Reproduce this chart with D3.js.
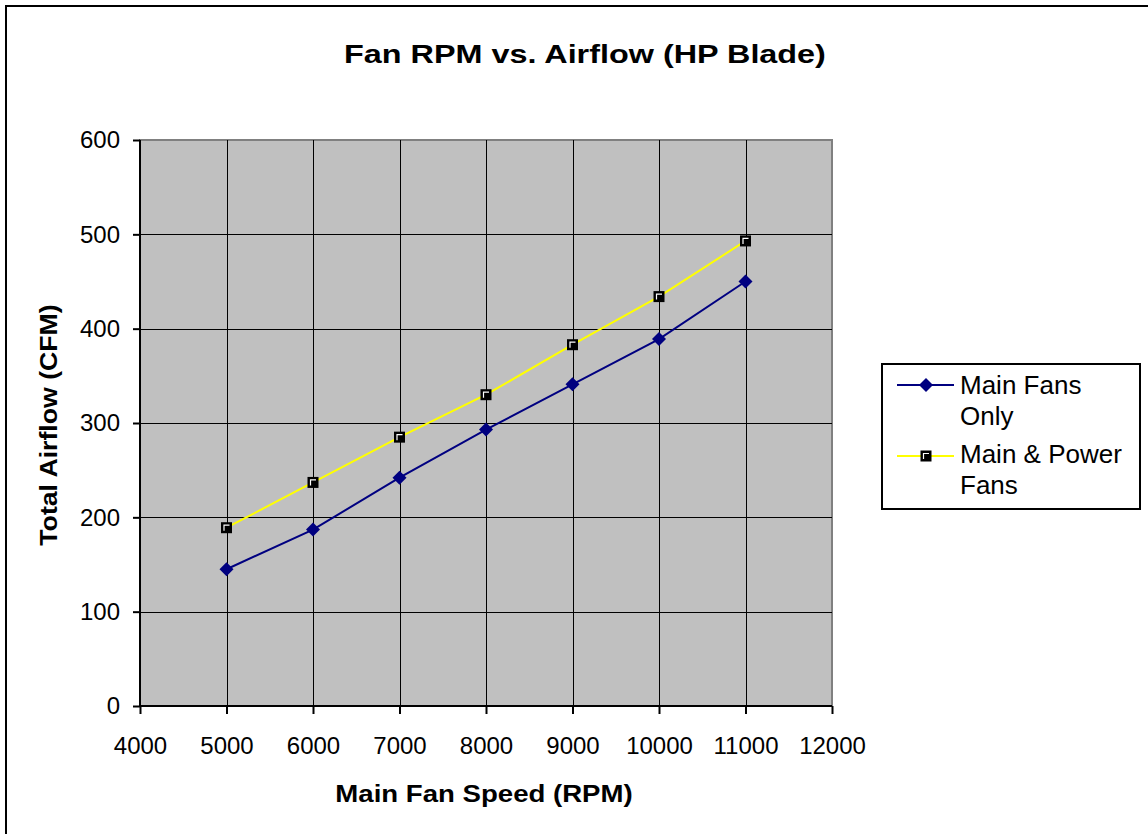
<!DOCTYPE html>
<html>
<head>
<meta charset="utf-8">
<script src="https://cdn.jsdelivr.net/npm/d3@7"></script>
<style>
  body { margin: 0; background: #fff; }
  text { font-family: "Liberation Sans", Arial, sans-serif; }
</style>
</head>
<body>
<svg></svg>
<script>
width = 1148;
height = 834;

// data
let rpm = [5000, 6000, 7000, 8000, 9000, 10000, 11000];
let mainOnly = [145, 187, 242, 293, 341, 389, 450];
let mainPower = [189, 237, 285, 330, 383, 434, 493];
let xTicks = [4000, 5000, 6000, 7000, 8000, 9000, 10000, 11000, 12000];
let yTicks = [0, 100, 200, 300, 400, 500, 600];

let svg = d3.select("svg").attr("width", width).attr("height", height);

// outer chart border (runs off the right/bottom edge)
svg.append("rect")
    .attr("x", 6).attr("y", 6)
    .attr("width", 1160).attr("height", 850)
    .style("fill", "white")
    .style("stroke", "black")
    .style("stroke-width", 2);

let pLeft = 140, pTop = 140, pRight = 832, pBottom = 706;

let x = d3.scaleLinear().domain([4000, 12000]).range([pLeft, pRight]);
let y = d3.scaleLinear().domain([0, 600]).range([pBottom, pTop]);

// plot background
svg.append("rect")
    .attr("x", pLeft).attr("y", pTop)
    .attr("width", pRight - pLeft).attr("height", pBottom - pTop)
    .style("fill", "#c0c0c0")
    .style("stroke", "#808080")
    .style("stroke-width", 2);

// gridlines
svg.append("g").selectAll("line")
    .data(xTicks.slice(1, -1))
    .join("line")
    .attr("x1", d => Math.round(x(d)) + 0.5).attr("x2", d => Math.round(x(d)) + 0.5)
    .attr("y1", pTop).attr("y2", pBottom)
    .style("stroke", "black").style("stroke-width", 1);

svg.append("g").selectAll("line")
    .data(yTicks.slice(1, -1))
    .join("line")
    .attr("x1", pLeft).attr("x2", pRight)
    .attr("y1", d => Math.round(y(d)) + 0.5).attr("y2", d => Math.round(y(d)) + 0.5)
    .style("stroke", "black").style("stroke-width", 1);

// axes
let xAxis = svg.append("g")
    .attr("transform", "translate(0," + pBottom + ")")
    .call(d3.axisBottom(x).tickValues(xTicks).tickSize(8).tickPadding(23).tickFormat(d3.format("d")));
let yAxis = svg.append("g")
    .attr("transform", "translate(" + pLeft + ",0)")
    .call(d3.axisLeft(y).tickValues(yTicks).tickSize(7).tickPadding(13));

[xAxis, yAxis].forEach(a => {
    a.select(".domain").style("stroke", "black").style("stroke-width", 2);
    a.selectAll(".tick line").style("stroke", "black").style("stroke-width", 2);
    a.selectAll(".tick text")
        .style("font-family", "'Liberation Sans', Arial, sans-serif")
        .style("font-size", "24px")
        .style("fill", "black");
});
xAxis.select(".domain").attr("d", "M" + pLeft + ",0H" + pRight);
yAxis.select(".domain").attr("d", "M0," + pBottom + "V" + pTop);

// lines
let line = d3.line().x(d => x(d[0])).y(d => y(d[1]));

svg.append("path")
    .attr("d", line(d3.zip(rpm, mainPower)))
    .style("fill", "none").style("stroke", "#ffff00").style("stroke-width", 2);

svg.append("path")
    .attr("d", line(d3.zip(rpm, mainOnly)))
    .style("fill", "none").style("stroke", "#000080").style("stroke-width", 2);

function diamond(g, cx, cy) {
    g.append("path")
        .attr("d", "M" + cx + "," + (cy - 7) + "L" + (cx + 7) + "," + cy +
            "L" + cx + "," + (cy + 7) + "L" + (cx - 7) + "," + cy + "Z")
        .style("fill", "#000080");
}

function square(g, cx, cy) {
    g.append("rect")
        .attr("x", cx - 5.5).attr("y", cy - 5.5)
        .attr("width", 11).attr("height", 11)
        .style("fill", "black");
    g.append("path")
        .attr("d", "M" + (cx - 2.5) + "," + (cy + 3) + "V" + (cy - 2.5) + "H" + (cx + 3))
        .style("fill", "none").style("stroke", "white").style("stroke-width", 1.2);
}

let marks = svg.append("g");
rpm.forEach((r, i) => square(marks, x(r), y(mainPower[i])));
rpm.forEach((r, i) => diamond(marks, x(r), y(mainOnly[i])));

// title and axis titles (bold text in the original is set wide)
svg.append("text")
    .attr("transform", "translate(585,63) scale(1.245,1)")
    .attr("text-anchor", "middle")
    .style("font-size", "26px").style("font-weight", "bold")
    .text("Fan RPM vs. Airflow (HP Blade)");

svg.append("text")
    .attr("transform", "translate(484,802) scale(1.2,1)")
    .attr("text-anchor", "middle")
    .style("font-size", "23px").style("font-weight", "bold")
    .text("Main Fan Speed (RPM)");

svg.append("text")
    .attr("transform", "translate(57,425) rotate(-90) scale(1.16,1)")
    .attr("text-anchor", "middle")
    .style("font-size", "23px").style("font-weight", "bold")
    .text("Total Airflow (CFM)");

// legend
let legend = svg.append("g");
legend.append("rect")
    .attr("x", 882).attr("y", 364)
    .attr("width", 258).attr("height", 145)
    .style("fill", "white").style("stroke", "black").style("stroke-width", 2);

legend.append("line")
    .attr("x1", 897).attr("x2", 954).attr("y1", 385).attr("y2", 385)
    .style("stroke", "#000080").style("stroke-width", 2);
diamond(legend, 926, 385);

legend.append("line")
    .attr("x1", 897).attr("x2", 954).attr("y1", 456).attr("y2", 456)
    .style("stroke", "#ffff00").style("stroke-width", 2);
square(legend, 926, 456);

let legendText = [["Main Fans", "Only"], ["Main & Power", "Fans"]];
legendText.forEach((lines, i) => {
    lines.forEach((t, j) => {
        legend.append("text")
            .attr("x", 960).attr("y", 394 + i * 69 + j * 31)
            .style("font-size", "26px")
            .text(t);
    });
});
</script>
</body>
</html>
